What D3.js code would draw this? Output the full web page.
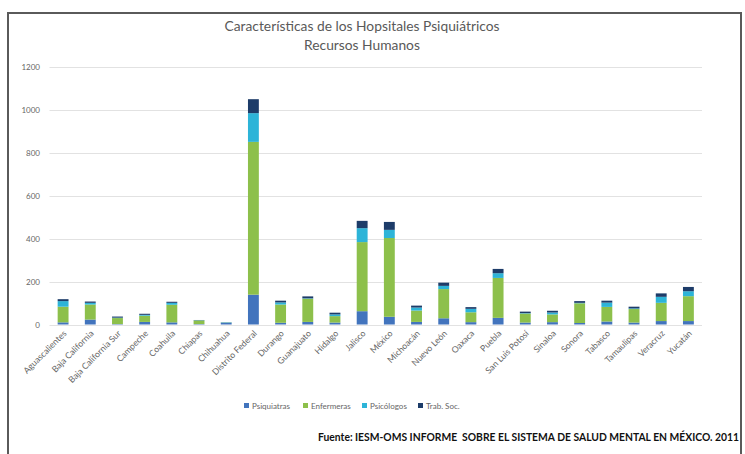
<!DOCTYPE html>
<html><head><meta charset="utf-8">
<script src="https://cdn.jsdelivr.net/npm/d3@7/dist/d3.min.js"></script>
<style>body{margin:0;background:#fff}svg{display:block}</style>
</head><body>
<svg id="c" width="745" height="454"></svg>
<script>
const categories = ["Aguascalientes","Baja California","Baja California Sur","Campeche","Coahuila","Chiapas","Chihuahua","Distrito Federal","Durango","Guanajuato","Hidalgo","Jalisco","México","Michoacán","Nuevo León","Oaxaca","Puebla","San Luis Potosí","Sinaloa","Sonora","Tabasco","Tamaulipas","Veracruz","Yucatán"];
const psiquiatras = [10,23,2,12,10,2,9,139,8,12,9,62,36,12,29,11,31,9,11,7,14,9,16,16];
const enfermeras  = [73,70,28,29,82,17,1,712,85,108,30,322,367,53,136,46,186,42,36,92,68,63,85,116];
const psicologos  = [26,8,2,4,9,1,1,134,10,2,8,65,38,14,15,16,22,2,9,2,20,3,28,23];
const trabSoc     = [9,6,5,5,5,1,0,65,8,9,8,34,37,9,15,8,20,7,8,8,9,8,16,20];
const seriesNames = ["Psiquiatras","Enfermeras","Psicólogos","Trab. Soc."];
const yTicks = [0,200,400,600,800,1000,1200];
const colors = ["#4274bd","#8dc04b","#2db4d8","#1d3c69"];

const svg = d3.select("#c");
const font = "Lato, 'Open Sans', sans-serif";

// frame
svg.append("rect").attr("x",8).attr("y",13).attr("width",733).attr("height",460)
  .attr("fill","none").attr("stroke","#5a5a5a").attr("stroke-width",2);

const x = d3.scaleBand().domain(categories).range([49.5,702]).paddingInner(0.6).paddingOuter(0.3);
const y = d3.scaleLinear().domain([0,1200]).range([324.5,67]);

// gridlines
svg.append("g").selectAll("line").data(yTicks).join("line")
  .attr("x1",49.5).attr("x2",702).attr("y1",d=>Math.round(y(d))+0.5).attr("y2",d=>Math.round(y(d))+0.5)
  .attr("stroke","#e2e2e2").attr("stroke-width",1);

// y labels
svg.append("g").selectAll("text").data(yTicks).join("text")
  .attr("x",40).attr("y",d=>y(d)+3).attr("text-anchor","end")
  .attr("font-family",font).attr("font-size",8).attr("fill","#666").text(d=>d);

// stacked data
const rows = categories.map((c,i)=>({cat:c,"Psiquiatras":psiquiatras[i],"Enfermeras":enfermeras[i],"Psicólogos":psicologos[i],"Trab. Soc.":trabSoc[i]}));
const stack = d3.stack().keys(seriesNames)(rows);
svg.append("g").selectAll("g").data(stack).join("g").attr("fill",(d,i)=>colors[i])
  .selectAll("rect").data(d=>d).join("rect")
  .attr("x",d=>x(d.data.cat)).attr("width",x.bandwidth())
  .attr("y",d=>y(d[1])).attr("height",d=>Math.max(0,y(d[0])-y(d[1])));

// x labels
svg.append("g").selectAll("text").data(categories).join("text")
  .attr("transform",d=>`translate(${x(d)+x.bandwidth()/2+4},${334}) rotate(-45)`)
  .attr("text-anchor","end").attr("font-family",font).attr("font-size",8.7).attr("fill","#666").text(d=>d);

// title
svg.append("text").attr("x",362).attr("y",31).attr("text-anchor","middle")
  .attr("font-family",font).attr("font-size",13.8).attr("fill","#595959")
  .text("Características de los Hopsitales Psiquiátricos");
svg.append("text").attr("x",362).attr("y",50).attr("text-anchor","middle")
  .attr("font-family",font).attr("font-size",13.8).attr("fill","#595959")
  .text("Recursos Humanos");

// legend
const legX = [244,303,362,418];
const lg = svg.append("g").selectAll("g").data(seriesNames).join("g")
  .attr("transform",(d,i)=>`translate(${legX[i]},403)`);
lg.append("rect").attr("width",5).attr("height",5).attr("fill",(d,i)=>colors[i]);
lg.append("text").attr("x",8).attr("y",5.5).attr("font-family",font).attr("font-size",8).attr("fill","#666").text(d=>d);

// source
svg.append("text").attr("x",318).attr("y",441).attr("font-family",font)
  .attr("font-weight","bold").attr("font-size",10.5).attr("fill","#111")
  .attr("textLength",421).attr("lengthAdjust","spacingAndGlyphs")
  .attr("xml:space","preserve")
  .text("Fuente: IESM-OMS INFORME  SOBRE EL SISTEMA DE SALUD MENTAL EN MÉXICO. 2011");
</script>
</body></html>
